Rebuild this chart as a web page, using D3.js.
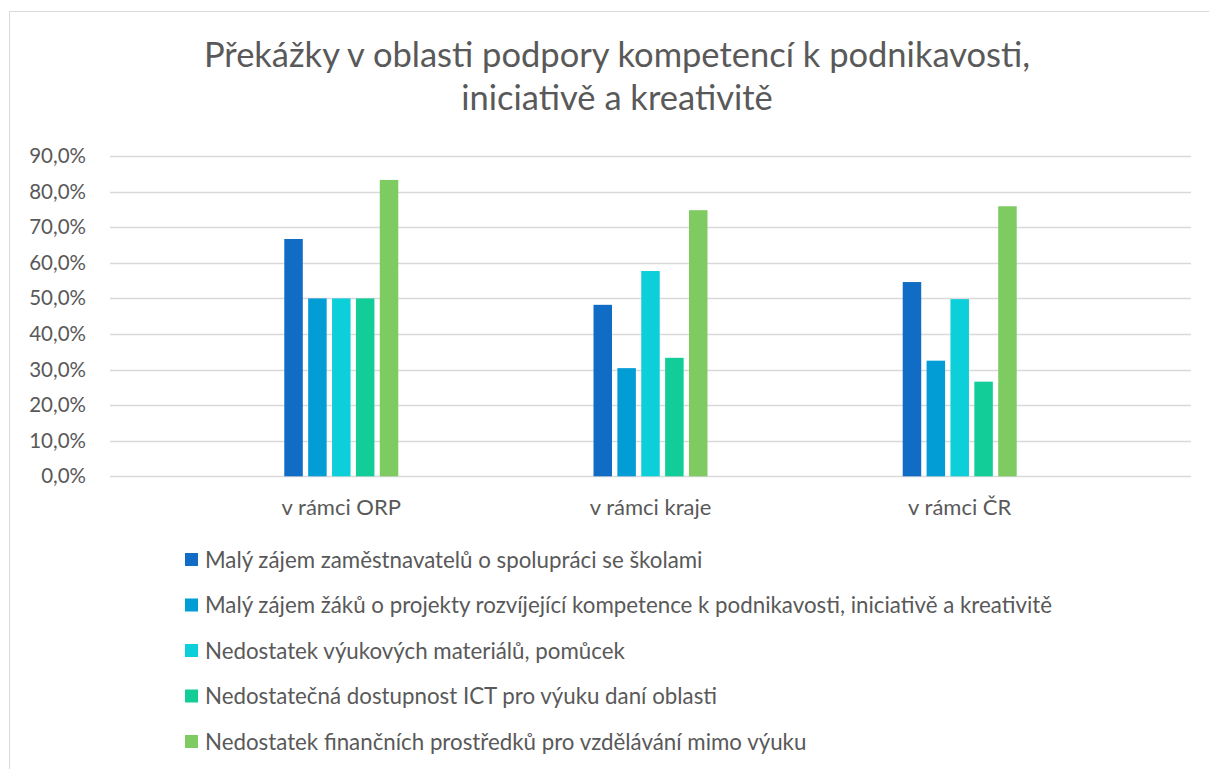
<!DOCTYPE html>
<html>
<head>
<meta charset="utf-8">
<script src="https://cdn.jsdelivr.net/npm/d3@7"></script>
<style>
  html, body { margin: 0; padding: 0; background: #fff; }
  svg { display: block; }
  text { font-family: Lato, "Open Sans", sans-serif; fill: #595959; }
</style>
</head>
<body>
<svg id="chart" width="1209" height="769"></svg>
<script>
// Categories (x axis)
const categories = ["v rámci ORP", "v rámci kraje", "v rámci ČR"];

// Series names (legend)
const seriesNames = [
  "Malý zájem zaměstnavatelů o spolupráci se školami",
  "Malý zájem žáků o projekty rozvíjející kompetence k podnikavosti, iniciativě a kreativitě",
  "Nedostatek výukových materiálů, pomůcek",
  "Nedostatečná dostupnost ICT pro výuku daní oblasti",
  "Nedostatek finančních prostředků pro vzdělávání mimo výuku"
];

// Values in percent, one array per series, ordered as the categories
const zamestnavatele = [66.7, 48.2, 54.6];
const zaci = [50.0, 30.4, 32.5];
const materialy = [50.0, 57.7, 49.8];
const ict = [50.0, 33.3, 26.6];
const finance = [83.3, 74.8, 75.9];

const seriesValues = [zamestnavatele, zaci, materialy, ict, finance];
const seriesColors = ["#106cc4", "#039dd6", "#0dcfda", "#13cd98", "#7ecb62"];

// Y axis ticks
const yTicks = [0, 10, 20, 30, 40, 50, 60, 70, 80, 90];

const svg = d3.select("#chart");

// Outer chart frame
svg.append("rect")
  .attr("x", 9.5).attr("y", 11.5)
  .attr("width", 1220).attr("height", 800)
  .attr("fill", "none").attr("stroke", "#d9d9d9").attr("stroke-width", 1);

// Title
const title = svg.append("text")
  .attr("text-anchor", "middle")
  .attr("font-size", 34.5);
title.append("tspan").attr("x", 617).attr("y", 67)
  .text("Překážky v oblasti podpory kompetencí k podnikavosti,");
title.append("tspan").attr("x", 617).attr("y", 110)
  .text("iniciativě a kreativitě");

const plot = { left: 110, right: 1191, top: 156.1, bottom: 476.3 };
const clusterWidth = 114;

const y = d3.scaleLinear().domain([0, 90]).range([plot.bottom, plot.top]);
const x0 = d3.scaleBand().domain(categories)
  .range([plot.left, plot.right]).paddingInner(0).paddingOuter(0.248);
const x1 = d3.scaleBand().domain(d3.range(seriesNames.length))
  .range([0, clusterWidth]).paddingInner(0.225);
const barOffset = (x0.bandwidth() - clusterWidth) / 2;

// Gridlines
svg.append("g").selectAll("line").data(yTicks).join("line")
  .attr("x1", plot.left).attr("x2", plot.right)
  .attr("y1", d => Math.round(y(d)) + 0.5).attr("y2", d => Math.round(y(d)) + 0.5)
  .attr("stroke", "#d9d9d9").attr("stroke-width", 1.5);

// Y axis labels
const fmt = d => d.toFixed(1).replace(".", ",") + "%";
const yAxis = d3.axisLeft(y).tickValues(yTicks).tickFormat(fmt).tickSize(0).tickPadding(0);
const yg = svg.append("g").attr("transform", `translate(86,0)`).call(yAxis);
yg.select(".domain").remove();
yg.selectAll("text").attr("font-size", 20.5).attr("font-family", null).attr("fill", null);

// Bars
const groups = svg.append("g").selectAll("g").data(categories).join("g")
  .attr("transform", d => `translate(${x0(d) + barOffset},0)`);
groups.selectAll("rect")
  .data((c, ci) => seriesValues.map((vals, si) => ({ si, v: vals[ci] })))
  .join("rect")
  .attr("x", d => x1(d.si))
  .attr("width", x1.bandwidth())
  .attr("y", d => y(d.v))
  .attr("height", d => y(0) - y(d.v))
  .attr("fill", d => seriesColors[d.si]);

// X axis labels
const xAxis = d3.axisBottom(x0).tickSize(0).tickPadding(0);
const xg = svg.append("g").attr("transform", `translate(0,${plot.bottom + 23})`).call(xAxis);
xg.select(".domain").remove();
xg.selectAll("text").attr("font-size", 22).attr("font-family", null).attr("fill", null);

// Legend
const legend = svg.append("g").selectAll("g").data(seriesNames).join("g")
  .attr("transform", (d, i) => `translate(185,${560 + i * 45.5})`);
legend.append("rect")
  .attr("x", 0).attr("y", -7).attr("width", 13).attr("height", 13)
  .attr("fill", (d, i) => seriesColors[i]);
legend.append("text")
  .attr("x", 20).attr("y", 0).attr("dy", "0.35em")
  .attr("font-size", 22.3)
  .text(d => d);
</script>
</body>
</html>
